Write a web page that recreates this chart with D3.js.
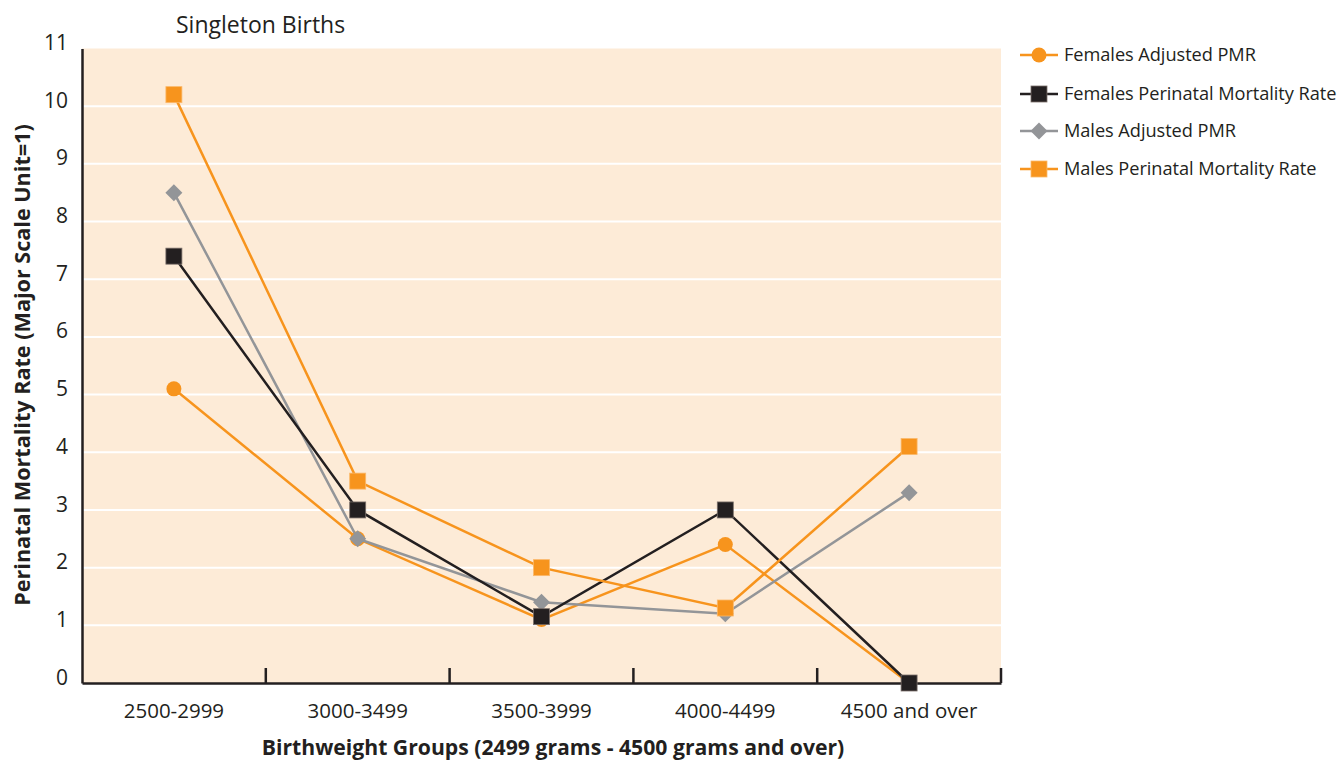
<!DOCTYPE html>
<html><head><meta charset="utf-8">
<script src="https://cdn.jsdelivr.net/npm/d3@7"></script>
<style>body{margin:0;background:#fff}svg{display:block}text{font-family:"Open Sans",sans-serif;fill:#231f20}</style>
</head><body><svg id="c" width="1343" height="762"></svg>
<script>
const categories = ["2500-2999","3000-3499","3500-3999","4000-4499","4500 and over"];
const femalesAdjusted = [5.1, 2.5, 1.1, 2.4, 0];
const femalesPMR = [7.4, 3.0, 1.15, 3.0, 0];
const malesAdjusted = [8.5, 2.5, 1.4, 1.2, 3.3];
const malesPMR = [10.2, 3.5, 2.0, 1.3, 4.1];
const yTicks = [0,1,2,3,4,5,6,7,8,9,10,11];
const seriesNames = ["Females Adjusted PMR","Females Perinatal Mortality Rate","Males Adjusted PMR","Males Perinatal Mortality Rate"];

const series = [
  {name: seriesNames[0], values: femalesAdjusted, color: "#f7941d", shape: "circle", z: 0},
  {name: seriesNames[1], values: femalesPMR, color: "#231f20", shape: "square", z: 2},
  {name: seriesNames[2], values: malesAdjusted, color: "#939598", shape: "diamond", z: 1},
  {name: seriesNames[3], values: malesPMR, color: "#f7941d", shape: "square", z: 3}
];

const svg = d3.select("#c");
const L = 82, R = 1001, T = 48.5, B = 683;
const x = d3.scaleBand().domain(categories).range([L, R]).padding(0);
const y = d3.scaleLinear().domain([0, 11]).range([B, T]);

svg.append("rect").attr("x", L).attr("y", T).attr("width", R - L).attr("height", B - T).attr("fill", "#fdebd7");

// gridlines
svg.append("g").selectAll("line").data(yTicks.filter(d => d > 0 && d < 11)).join("line")
  .attr("x1", L).attr("x2", R).attr("y1", d => y(d)).attr("y2", d => y(d))
  .attr("stroke", "#fff").attr("stroke-width", 2);

// y axis
const yAxis = d3.axisLeft(y).tickValues(yTicks).tickSize(0).tickPadding(14).tickFormat(d3.format("d"));
const gy = svg.append("g").attr("transform", `translate(${L},0)`).call(yAxis);
gy.select(".domain").attr("stroke", "#231f20").attr("stroke-width", 2.5);
gy.selectAll("text").attr("font-size", 21).attr("font-family", "Open Sans").attr("fill", "#231f20").attr("dy", "0.05em");

// x axis
const xAxis = d3.axisBottom(x).tickSize(0).tickPadding(20);
const gx = svg.append("g").attr("transform", `translate(0,${B})`).call(xAxis);
gx.select(".domain").attr("stroke", "#231f20").attr("stroke-width", 2.5);
gx.selectAll("text").attr("font-size", 20.5).attr("font-family", "Open Sans").attr("fill", "#231f20");
// inward ticks at band boundaries
const bounds = categories.map(c => x(c) + x.bandwidth());
svg.append("g").selectAll("line").data(bounds).join("line")
  .attr("x1", d => d).attr("x2", d => d).attr("y1", B).attr("y2", B - 15)
  .attr("stroke", "#231f20").attr("stroke-width", 2.5);

function drawMarker(g, shape, color, cx, cy) {
  if (shape === "circle") {
    g.append("circle").attr("cx", cx).attr("cy", cy).attr("r", 7.5).attr("fill", color);
  } else if (shape === "square") {
    g.append("rect").attr("x", cx - 8).attr("y", cy - 8).attr("width", 16).attr("height", 16).attr("fill", color)
      .attr("stroke", color === "#231f20" ? "#7a6f6a" : "#fbb86a").attr("stroke-width", 0.8);
  } else {
    g.append("path").attr("d", `M${cx},${cy-8.5}L${cx+8.5},${cy}L${cx},${cy+8.5}L${cx-8.5},${cy}Z`).attr("fill", color);
  }
}

const cx = c => x(c) + x.bandwidth() / 2;
const line = d3.line().x((d, i) => cx(categories[i])).y(d => y(d));

series.slice().sort((a, b) => a.z - b.z).forEach(s => {
  const g = svg.append("g");
  g.append("path").attr("d", line(s.values)).attr("fill", "none").attr("stroke", s.color).attr("stroke-width", 2.5);
  s.values.forEach((v, i) => drawMarker(g, s.shape, s.color, cx(categories[i]), y(v)));
});

// legend
const leg = svg.append("g");
const legY = [55, 94, 131, 169];
series.forEach((s, i) => {
  const ly = legY[i];
  leg.append("line").attr("x1", 1020).attr("x2", 1058).attr("y1", ly).attr("y2", ly).attr("stroke", s.color).attr("stroke-width", 2.5);
  drawMarker(leg, s.shape, s.color, 1039, ly);
  leg.append("text").attr("x", 1064).attr("y", ly).attr("dy", "0.35em").attr("font-size", 18.2)
    .attr("letter-spacing", "-0.05px").text(s.name);
});

// title
svg.append("text").attr("x", 176).attr("y", 33).attr("font-size", 23).text("Singleton Births");

// axis titles
svg.append("text").attr("transform", `translate(30,${365}) rotate(-90)`).attr("text-anchor", "middle")
  .attr("font-size", 21.6).attr("font-weight", "bold")
  .text("Perinatal Mortality Rate (Major Scale Unit=1)");
svg.append("text").attr("x", 553).attr("y", 755).attr("text-anchor", "middle")
  .attr("font-size", 21.2).attr("font-weight", "bold")
  .text("Birthweight Groups (2499 grams - 4500 grams and over)");
</script></body></html>
